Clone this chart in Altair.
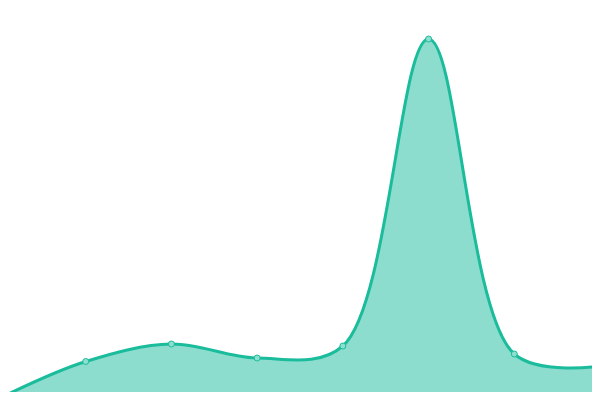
import altair as alt
import pandas as pd

idx = [0, 1, 2, 3, 4, 5, 6, 7]
values = [2, 38.5, 56, 42, 54, 361, 46, 34]

df = pd.DataFrame({"i": idx, "v": values})

# page has an 8px margin: map the visible plot so that data index 0..7 spans 0..600 px of the page
x = alt.X("i:Q", axis=None, scale=alt.Scale(domain=[8 / (600 / 7), 592 / (600 / 7)], nice=False, zero=False))
y = alt.Y("v:Q", axis=None, scale=alt.Scale(domain=[8, 392], nice=False, zero=False))

base = alt.Chart(df).encode(x=x, y=y)

interp = dict(interpolate="catmull-rom")
area = base.mark_area(color="#1abc9c", opacity=0.5, clip=True, **interp)
line = base.mark_line(color="#1abc9c", strokeWidth=3, clip=True, **interp)
pts = base.mark_point(filled=True, fill="#8de0cf", stroke="#1abc9c", strokeWidth=1, size=36, opacity=1, clip=True)

chart = (area + line + pts).properties(width=584, height=384, padding=0, autosize="none").configure_view(stroke=None)

chart.save("out.html", embed_options={"renderer": "svg", "actions": False})
